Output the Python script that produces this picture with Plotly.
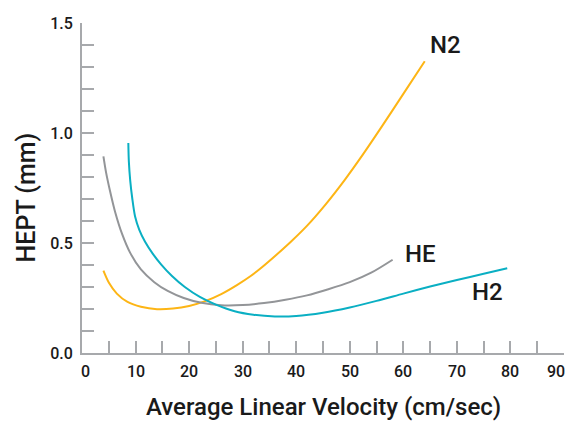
import plotly.graph_objects as go

# HEPT vs. average linear velocity for three carrier gases
n2_velocity = [4, 5, 6.5, 8.5, 11, 14, 17, 20, 23, 26, 29, 31.5, 33.6, 36, 39, 42, 45.5, 49, 52.5, 56, 60, 64]
n2_hept = [0.374, 0.32, 0.27, 0.232, 0.21, 0.199, 0.202, 0.214, 0.236, 0.268, 0.31, 0.35, 0.39,
           0.44, 0.506, 0.578, 0.676, 0.785, 0.904, 1.03, 1.178, 1.326]

he_velocity = [4, 4.5, 5.2, 6.2, 7.5, 9, 11, 13.5, 16, 19, 22.3, 26, 30, 34, 38, 42, 46, 50, 54, 58]
he_hept = [0.894, 0.82, 0.74, 0.64, 0.54, 0.455, 0.38, 0.322, 0.282, 0.25, 0.228, 0.217, 0.218,
           0.227, 0.242, 0.262, 0.29, 0.322, 0.365, 0.424]

h2_velocity = [8.65, 8.75, 9.0, 9.4, 9.9, 10.7, 11.75, 13.2, 14.8, 16.8, 19.2, 22, 25, 28.5, 32, 36,
               40, 45, 50, 55, 60, 65, 70, 75, 79.4]
h2_hept = [0.955, 0.87, 0.785, 0.70, 0.622, 0.56, 0.507, 0.452, 0.402, 0.35, 0.3, 0.255, 0.22, 0.19,
           0.174, 0.166, 0.168, 0.183, 0.207, 0.237, 0.27, 0.302, 0.332, 0.36, 0.385]

x_tick_values = [0, 10, 20, 30, 40, 50, 60, 70, 80, 90]
x_tick_labels = ["0", "10", "20", "30", "40", "50", "60", "70", "80", "90"]

gas_labels = ["N2", "HE", "H2"]
label_x = [67.8, 63.2, 75.7]
label_y = [1.40, 0.449, 0.276]

colors = {"N2": "#FDB515", "HE": "#939598", "H2": "#0AAFC3"}
axis_color = "#A7A9AC"
text_color = "#1a1a1a"
font_family = "Roboto, DejaVu Sans, sans-serif"

fig = go.Figure()
for name, xs, ys in [("N2", n2_velocity, n2_hept),
                     ("HE", he_velocity, he_hept),
                     ("H2", h2_velocity, h2_hept)]:
    fig.add_trace(go.Scatter(
        x=xs, y=ys, mode="lines", name=name,
        line=dict(color=colors[name], width=2, shape="spline", smoothing=0.8),
        showlegend=False,
    ))

label_font = dict(family=font_family, size=24, color=text_color, weight=500)
for text, lx, ly in zip(gas_labels, label_x, label_y):
    fig.add_annotation(x=lx, y=ly, xref="x", yref="y", text=text, showarrow=False,
                       font=label_font)

fig.add_annotation(x=0.5, y=0, xref="paper", yref="paper", yshift=-70,
                   text="Average Linear Velocity (cm/sec)", showarrow=False,
                   font=label_font)
fig.add_annotation(x=0, y=0.47, xref="paper", yref="paper", xshift=-72,
                   text="HEPT (mm)", textangle=-90, showarrow=False,
                   font=dict(family=font_family, size=25, color=text_color, weight=500))

tick_font = dict(family=font_family, size=16, color=text_color, weight=500)

# x tick labels are written as annotations: the first sits just right of its
# tick and the last ends at the axis end, so both stay on the page
for i, (val, lab) in enumerate(zip(x_tick_values, x_tick_labels)):
    if i == 0:
        anchor, shift = "left", -3
    elif i == len(x_tick_values) - 1:
        anchor, shift = "right", 3
    else:
        anchor, shift = "center", 0
    fig.add_annotation(x=val, y=0, xref="x", yref="paper", text=lab, showarrow=False,
                       xanchor=anchor, yanchor="middle", xshift=shift, yshift=-18,
                       font=tick_font)

fig.update_xaxes(
    range=[0, 90.001], tickmode="array", tickvals=x_tick_values, showticklabels=False,
    ticks="inside", ticklen=12, tickwidth=2,
    tickcolor=axis_color, showline=True, linecolor=axis_color, linewidth=2,
    showgrid=False, zeroline=False, automargin=False,
    minor=dict(tickmode="linear", tick0=0, dtick=5, ticks="inside", ticklen=12, tickwidth=2,
               tickcolor=axis_color, showgrid=False),
)
fig.update_yaxes(
    range=[0, 1.50001], tick0=0, dtick=0.5, tickformat=".1f", ticks="inside", ticklen=12,
    tickwidth=2, tickcolor=axis_color, showline=True, linecolor=axis_color, linewidth=2,
    showgrid=False, zeroline=False, ticklabelstandoff=4, ticklabeloverflow="allow",
    automargin=False,
    minor=dict(dtick=0.1, ticks="inside", ticklen=12, tickwidth=2, tickcolor=axis_color, showgrid=False),
    tickfont=tick_font,
)

fig.update_layout(
    width=571, height=423,
    margin=dict(l=82, r=7, t=23, b=70),
    paper_bgcolor="white", plot_bgcolor="white",
)

fig.write_html("out.html")
